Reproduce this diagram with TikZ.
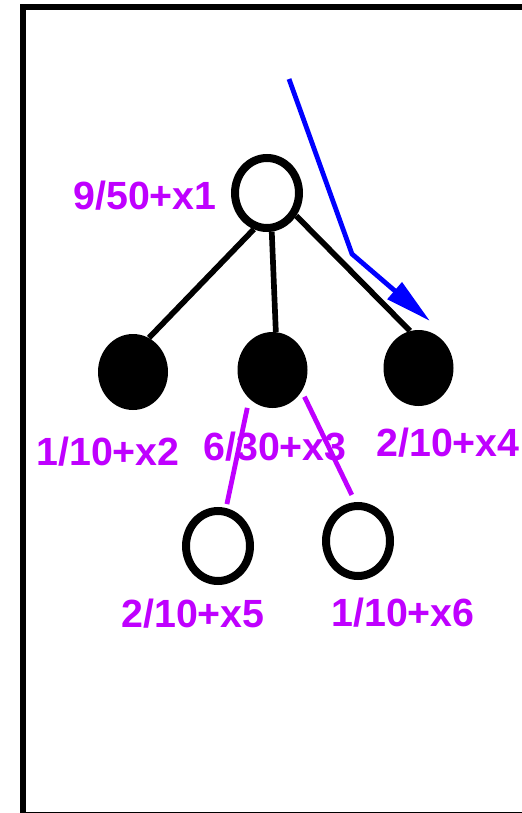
\documentclass[tikz,border=0pt]{standalone}
\usepackage{fontspec}
\setmainfont{Liberation Sans}
\usepackage{tikz}
\usetikzlibrary{arrows.meta,shapes.geometric}
\definecolor{labelpurple}{RGB}{191,0,255}
\definecolor{arrowblue}{RGB}{0,0,255}

\begin{document}
\begin{tikzpicture}[x=0.75pt,y=-0.75pt,
  opennode/.style={draw,ellipse,line width=6pt,fill=white,
                   minimum width=48pt,minimum height=52.5pt,inner sep=0pt},
  fullnode/.style={fill,ellipse,minimum width=52.5pt,minimum height=57pt,inner sep=0pt},
  val/.style={text=labelpurple,font=\bfseries\fontsize{29.5}{30}\selectfont,inner sep=0pt},
  edge/.style={line width=4.25pt},
  subedge/.style={line width=3.6pt,color=labelpurple},
  arrow/.style={-{Triangle[length=35pt,width=16pt]},line width=3.6pt,color=arrowblue}
]
\useasboundingbox (0,0) rectangle (521,813);
\draw[line width=4.5pt] (23,7.5) rectangle (560,815);
% tree
\node[opennode] (root) at (267,193) {};
\node[fullnode] (c2) at (133,372) {};
\node[fullnode] (c3) at (272.5,370) {};
\node[fullnode] (c4) at (418.5,368) {};
\node[opennode] (c5) at (218,546) {};
\node[opennode] (c6) at (358,541) {};
% values
\node[val] (v1) at (145,196) {9/50+x1};
\node[val] (v2) at (108,452) {1/10+x2};
\node[val] (v3) at (275,447) {6/30+x3};
\node[val] (v4) at (448,443) {2/10+x4};
\node[val] (v5) at (193,614) {2/10+x5};
\node[val] (v6) at (403,613) {1/10+x6};
\draw[edge] (root.250)--(c2.65);
\draw[edge] (root.277)--(c3.85);
\draw[edge] (root.322)--(c4.103);
\draw[subedge,shorten <=7pt,shorten >=3pt] (c3.231)--(c5.78);
\draw[subedge,shorten <=4.5pt,shorten >=6pt] (c3.324)--(c6.94);
% path arrow
\coordinate (start) at (289,79);
\coordinate (bend) at (352,254);
\coordinate (tip) at (430,321);
\draw[arrow] (start)--(bend)--(tip);
\end{tikzpicture}
\end{document}
